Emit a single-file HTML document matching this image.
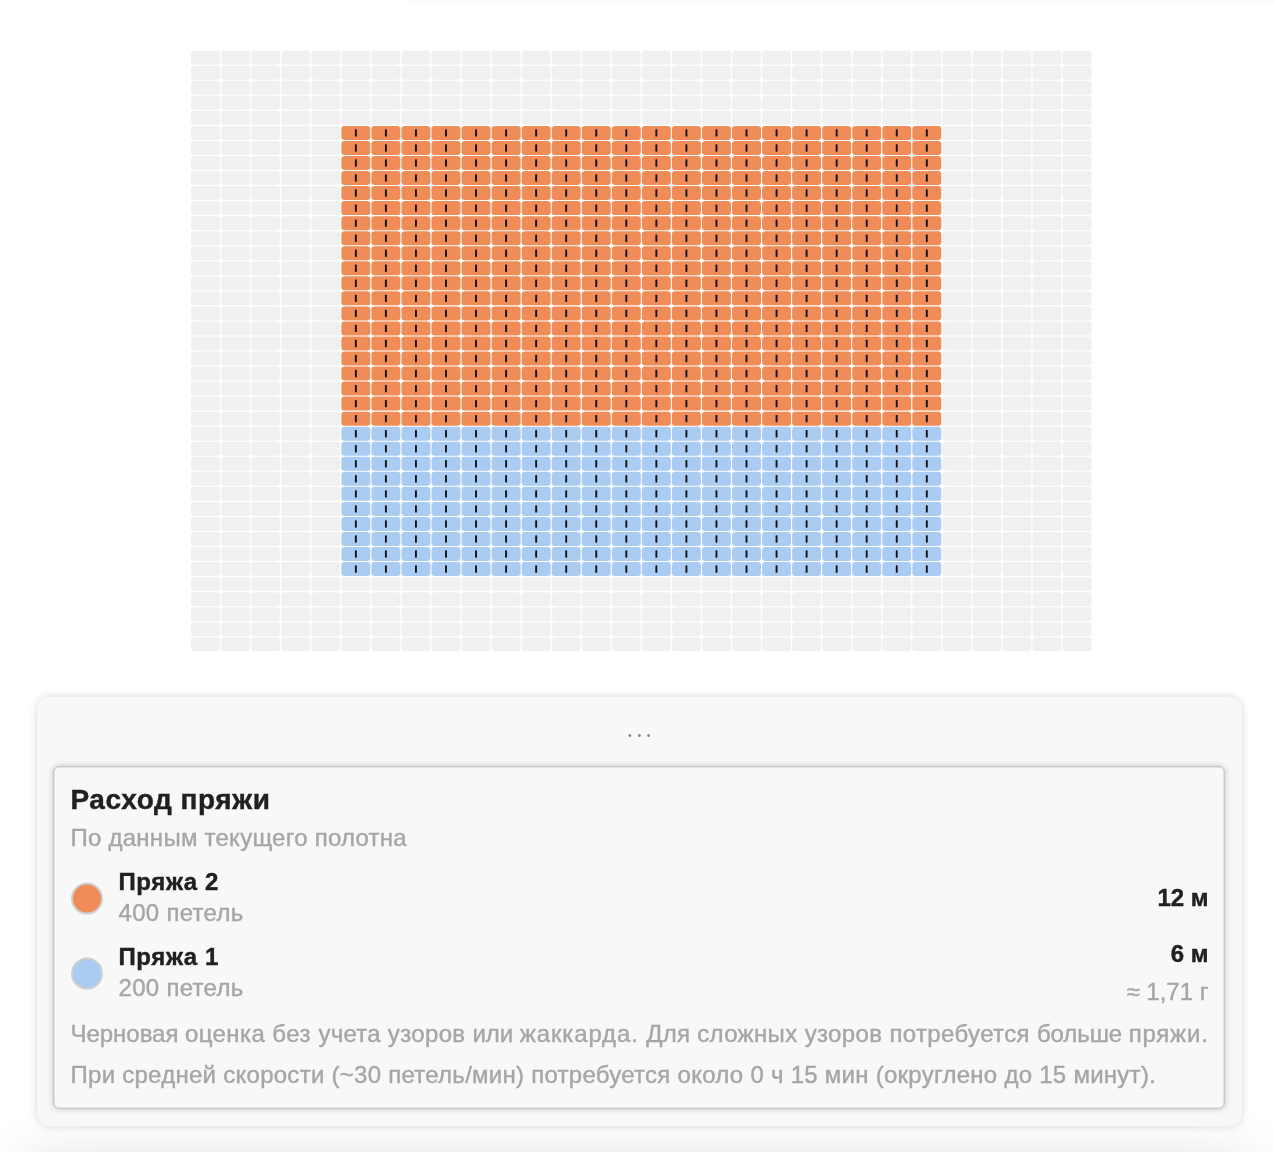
<!DOCTYPE html>
<html lang="ru"><head><meta charset="utf-8">
<title>Расход пряжи</title>
<style>
html,body{margin:0;padding:0;background:#fff;}
body{width:1274px;height:1152px;overflow:hidden;position:relative;font-family:"Liberation Sans",sans-serif;color:#202020;}
#grid{position:absolute;left:0;top:0;}
.topsh{position:absolute;left:403px;top:-11px;width:900px;height:10px;border-radius:0 0 0 8px;box-shadow:0 0 5px rgba(0,0,0,.065);}
.botsh{position:absolute;left:24px;top:1166px;width:1228px;height:100px;border-radius:14px;box-shadow:0 0 60px rgba(0,0,0,.17);}
.panel{position:absolute;left:36.5px;top:697.3px;width:1205.5px;height:429.2px;box-sizing:border-box;background:#f8f8f8;border-radius:13px;box-shadow:0 0 8px rgba(0,0,0,.16);}
.dots{position:absolute;left:0;right:0;top:33px;text-align:center;color:#848484;font-size:10.5px;line-height:10px;letter-spacing:5.68px;text-indent:5.68px;}
.card{position:absolute;left:16.5px;top:69px;width:1172px;height:343px;box-sizing:border-box;background:#f8f8f8;border:1px solid #c8c8c8;border-radius:6px;box-shadow:0 0 6px rgba(0,0,0,.2),inset 0 0 0 .5px #cfcfcf;}
.t{position:absolute;white-space:nowrap;line-height:1;-webkit-text-stroke:.4px currentColor;}
.h{font-weight:bold;font-size:28px;left:16.5px;letter-spacing:.55px;}
.sub{color:#a6a6a6;font-size:24px;left:16.5px;letter-spacing:.25px;}
.name{font-weight:bold;font-size:24px;left:64.5px;letter-spacing:.6px;}
.cnt{color:#a6a6a6;font-size:24px;left:64.5px;letter-spacing:.3px;}
.val{font-weight:bold;font-size:24px;right:15.5px;}
.g{color:#a6a6a6;font-size:24px;right:15.5px;}
.sw{position:absolute;transform:translateY(.6px);left:16.5px;width:28px;height:28px;border-radius:50%;border:2px solid #cfcfcf;}
.note{color:#a6a6a6;font-size:24px;left:16.5px;}
</style></head><body>
<svg id="grid" width="1274" height="700" viewBox="0 0 1274 700">
 <defs>
  <g id="g5"><rect x="0.00" width="29.0" height="14.0" rx="3.2" fill="#f0f0f0"/><rect x="30.05" width="29.0" height="14.0" rx="3.2" fill="#f0f0f0"/><rect x="60.10" width="29.0" height="14.0" rx="3.2" fill="#f0f0f0"/><rect x="90.15" width="29.0" height="14.0" rx="3.2" fill="#f0f0f0"/><rect x="120.20" width="29.0" height="14.0" rx="3.2" fill="#f0f0f0"/></g>
  <g id="gf"><use href="#g5" x="0.00"/><use href="#g5" x="150.25"/><use href="#g5" x="300.50"/><use href="#g5" x="450.75"/><use href="#g5" x="601.00"/><use href="#g5" x="751.25"/></g>
  <g id="gs"><use href="#g5"/><use href="#g5" x="751.25"/></g>
  <g id="ro"><rect x="0.00" width="29.0" height="14.0" rx="3.2" fill="#f08c58"/><rect x="30.05" width="29.0" height="14.0" rx="3.2" fill="#f08c58"/><rect x="60.10" width="29.0" height="14.0" rx="3.2" fill="#f08c58"/><rect x="90.15" width="29.0" height="14.0" rx="3.2" fill="#f08c58"/><rect x="120.20" width="29.0" height="14.0" rx="3.2" fill="#f08c58"/><rect x="150.25" width="29.0" height="14.0" rx="3.2" fill="#f08c58"/><rect x="180.30" width="29.0" height="14.0" rx="3.2" fill="#f08c58"/><rect x="210.35" width="29.0" height="14.0" rx="3.2" fill="#f08c58"/><rect x="240.40" width="29.0" height="14.0" rx="3.2" fill="#f08c58"/><rect x="270.45" width="29.0" height="14.0" rx="3.2" fill="#f08c58"/><rect x="300.50" width="29.0" height="14.0" rx="3.2" fill="#f08c58"/><rect x="330.55" width="29.0" height="14.0" rx="3.2" fill="#f08c58"/><rect x="360.60" width="29.0" height="14.0" rx="3.2" fill="#f08c58"/><rect x="390.65" width="29.0" height="14.0" rx="3.2" fill="#f08c58"/><rect x="420.70" width="29.0" height="14.0" rx="3.2" fill="#f08c58"/><rect x="450.75" width="29.0" height="14.0" rx="3.2" fill="#f08c58"/><rect x="480.80" width="29.0" height="14.0" rx="3.2" fill="#f08c58"/><rect x="510.85" width="29.0" height="14.0" rx="3.2" fill="#f08c58"/><rect x="540.90" width="29.0" height="14.0" rx="3.2" fill="#f08c58"/><rect x="570.95" width="29.0" height="14.0" rx="3.2" fill="#f08c58"/><rect x="13.55" y="3.30" width="1.9" height="7.4" rx=".6" fill="#15110e"/><rect x="43.60" y="3.30" width="1.9" height="7.4" rx=".6" fill="#15110e"/><rect x="73.65" y="3.30" width="1.9" height="7.4" rx=".6" fill="#15110e"/><rect x="103.70" y="3.30" width="1.9" height="7.4" rx=".6" fill="#15110e"/><rect x="133.75" y="3.30" width="1.9" height="7.4" rx=".6" fill="#15110e"/><rect x="163.80" y="3.30" width="1.9" height="7.4" rx=".6" fill="#15110e"/><rect x="193.85" y="3.30" width="1.9" height="7.4" rx=".6" fill="#15110e"/><rect x="223.90" y="3.30" width="1.9" height="7.4" rx=".6" fill="#15110e"/><rect x="253.95" y="3.30" width="1.9" height="7.4" rx=".6" fill="#15110e"/><rect x="284.00" y="3.30" width="1.9" height="7.4" rx=".6" fill="#15110e"/><rect x="314.05" y="3.30" width="1.9" height="7.4" rx=".6" fill="#15110e"/><rect x="344.10" y="3.30" width="1.9" height="7.4" rx=".6" fill="#15110e"/><rect x="374.15" y="3.30" width="1.9" height="7.4" rx=".6" fill="#15110e"/><rect x="404.20" y="3.30" width="1.9" height="7.4" rx=".6" fill="#15110e"/><rect x="434.25" y="3.30" width="1.9" height="7.4" rx=".6" fill="#15110e"/><rect x="464.30" y="3.30" width="1.9" height="7.4" rx=".6" fill="#15110e"/><rect x="494.35" y="3.30" width="1.9" height="7.4" rx=".6" fill="#15110e"/><rect x="524.40" y="3.30" width="1.9" height="7.4" rx=".6" fill="#15110e"/><rect x="554.45" y="3.30" width="1.9" height="7.4" rx=".6" fill="#15110e"/><rect x="584.50" y="3.30" width="1.9" height="7.4" rx=".6" fill="#15110e"/></g>
  <g id="rb"><rect x="0.00" width="29.0" height="14.0" rx="3.2" fill="#aaccf3"/><rect x="30.05" width="29.0" height="14.0" rx="3.2" fill="#aaccf3"/><rect x="60.10" width="29.0" height="14.0" rx="3.2" fill="#aaccf3"/><rect x="90.15" width="29.0" height="14.0" rx="3.2" fill="#aaccf3"/><rect x="120.20" width="29.0" height="14.0" rx="3.2" fill="#aaccf3"/><rect x="150.25" width="29.0" height="14.0" rx="3.2" fill="#aaccf3"/><rect x="180.30" width="29.0" height="14.0" rx="3.2" fill="#aaccf3"/><rect x="210.35" width="29.0" height="14.0" rx="3.2" fill="#aaccf3"/><rect x="240.40" width="29.0" height="14.0" rx="3.2" fill="#aaccf3"/><rect x="270.45" width="29.0" height="14.0" rx="3.2" fill="#aaccf3"/><rect x="300.50" width="29.0" height="14.0" rx="3.2" fill="#aaccf3"/><rect x="330.55" width="29.0" height="14.0" rx="3.2" fill="#aaccf3"/><rect x="360.60" width="29.0" height="14.0" rx="3.2" fill="#aaccf3"/><rect x="390.65" width="29.0" height="14.0" rx="3.2" fill="#aaccf3"/><rect x="420.70" width="29.0" height="14.0" rx="3.2" fill="#aaccf3"/><rect x="450.75" width="29.0" height="14.0" rx="3.2" fill="#aaccf3"/><rect x="480.80" width="29.0" height="14.0" rx="3.2" fill="#aaccf3"/><rect x="510.85" width="29.0" height="14.0" rx="3.2" fill="#aaccf3"/><rect x="540.90" width="29.0" height="14.0" rx="3.2" fill="#aaccf3"/><rect x="570.95" width="29.0" height="14.0" rx="3.2" fill="#aaccf3"/><rect x="13.55" y="3.30" width="1.9" height="7.4" rx=".6" fill="#0e1218"/><rect x="43.60" y="3.30" width="1.9" height="7.4" rx=".6" fill="#0e1218"/><rect x="73.65" y="3.30" width="1.9" height="7.4" rx=".6" fill="#0e1218"/><rect x="103.70" y="3.30" width="1.9" height="7.4" rx=".6" fill="#0e1218"/><rect x="133.75" y="3.30" width="1.9" height="7.4" rx=".6" fill="#0e1218"/><rect x="163.80" y="3.30" width="1.9" height="7.4" rx=".6" fill="#0e1218"/><rect x="193.85" y="3.30" width="1.9" height="7.4" rx=".6" fill="#0e1218"/><rect x="223.90" y="3.30" width="1.9" height="7.4" rx=".6" fill="#0e1218"/><rect x="253.95" y="3.30" width="1.9" height="7.4" rx=".6" fill="#0e1218"/><rect x="284.00" y="3.30" width="1.9" height="7.4" rx=".6" fill="#0e1218"/><rect x="314.05" y="3.30" width="1.9" height="7.4" rx=".6" fill="#0e1218"/><rect x="344.10" y="3.30" width="1.9" height="7.4" rx=".6" fill="#0e1218"/><rect x="374.15" y="3.30" width="1.9" height="7.4" rx=".6" fill="#0e1218"/><rect x="404.20" y="3.30" width="1.9" height="7.4" rx=".6" fill="#0e1218"/><rect x="434.25" y="3.30" width="1.9" height="7.4" rx=".6" fill="#0e1218"/><rect x="464.30" y="3.30" width="1.9" height="7.4" rx=".6" fill="#0e1218"/><rect x="494.35" y="3.30" width="1.9" height="7.4" rx=".6" fill="#0e1218"/><rect x="524.40" y="3.30" width="1.9" height="7.4" rx=".6" fill="#0e1218"/><rect x="554.45" y="3.30" width="1.9" height="7.4" rx=".6" fill="#0e1218"/><rect x="584.50" y="3.30" width="1.9" height="7.4" rx=".6" fill="#0e1218"/></g>
 </defs>
 <g transform="translate(191.1 50.7)">
  <use href="#gf" y="0.00"/>
  <use href="#gf" y="15.04"/>
  <use href="#gf" y="30.08"/>
  <use href="#gf" y="45.12"/>
  <use href="#gf" y="60.16"/>
  <use href="#gs" y="75.20"/><use href="#ro" x="150.25" y="75.20"/>
  <use href="#gs" y="90.24"/><use href="#ro" x="150.25" y="90.24"/>
  <use href="#gs" y="105.28"/><use href="#ro" x="150.25" y="105.28"/>
  <use href="#gs" y="120.32"/><use href="#ro" x="150.25" y="120.32"/>
  <use href="#gs" y="135.36"/><use href="#ro" x="150.25" y="135.36"/>
  <use href="#gs" y="150.40"/><use href="#ro" x="150.25" y="150.40"/>
  <use href="#gs" y="165.44"/><use href="#ro" x="150.25" y="165.44"/>
  <use href="#gs" y="180.48"/><use href="#ro" x="150.25" y="180.48"/>
  <use href="#gs" y="195.52"/><use href="#ro" x="150.25" y="195.52"/>
  <use href="#gs" y="210.56"/><use href="#ro" x="150.25" y="210.56"/>
  <use href="#gs" y="225.60"/><use href="#ro" x="150.25" y="225.60"/>
  <use href="#gs" y="240.64"/><use href="#ro" x="150.25" y="240.64"/>
  <use href="#gs" y="255.68"/><use href="#ro" x="150.25" y="255.68"/>
  <use href="#gs" y="270.72"/><use href="#ro" x="150.25" y="270.72"/>
  <use href="#gs" y="285.76"/><use href="#ro" x="150.25" y="285.76"/>
  <use href="#gs" y="300.80"/><use href="#ro" x="150.25" y="300.80"/>
  <use href="#gs" y="315.84"/><use href="#ro" x="150.25" y="315.84"/>
  <use href="#gs" y="330.88"/><use href="#ro" x="150.25" y="330.88"/>
  <use href="#gs" y="345.92"/><use href="#ro" x="150.25" y="345.92"/>
  <use href="#gs" y="360.96"/><use href="#ro" x="150.25" y="360.96"/>
  <use href="#gs" y="376.00"/><use href="#rb" x="150.25" y="376.00"/>
  <use href="#gs" y="391.04"/><use href="#rb" x="150.25" y="391.04"/>
  <use href="#gs" y="406.08"/><use href="#rb" x="150.25" y="406.08"/>
  <use href="#gs" y="421.12"/><use href="#rb" x="150.25" y="421.12"/>
  <use href="#gs" y="436.16"/><use href="#rb" x="150.25" y="436.16"/>
  <use href="#gs" y="451.20"/><use href="#rb" x="150.25" y="451.20"/>
  <use href="#gs" y="466.24"/><use href="#rb" x="150.25" y="466.24"/>
  <use href="#gs" y="481.28"/><use href="#rb" x="150.25" y="481.28"/>
  <use href="#gs" y="496.32"/><use href="#rb" x="150.25" y="496.32"/>
  <use href="#gs" y="511.36"/><use href="#rb" x="150.25" y="511.36"/>
  <use href="#gf" y="526.40"/>
  <use href="#gf" y="541.44"/>
  <use href="#gf" y="556.48"/>
  <use href="#gf" y="571.52"/>
  <use href="#gf" y="586.56"/>
 </g>
</svg>
<div class="topsh"></div>
<div class="botsh"></div>
<div class="panel">
 <div class="dots">•••</div>
 <div class="card">
  <div class="t h" id="h" style="top:18.7px">Расход пряжи</div>
  <div class="t sub" id="sub" style="top:58.6px">По данным текущего полотна</div>
  <div class="sw" style="top:115px;background:#f08c58"></div>
  <div class="t name" id="n2" style="top:102.6px">Пряжа 2</div>
  <div class="t cnt" id="c2" style="top:134px">400 петель</div>
  <div class="t val" id="v2" style="top:119px">12 м</div>
  <div class="sw" style="top:190px;background:#aaccf3"></div>
  <div class="t name" id="n1" style="top:177.6px">Пряжа 1</div>
  <div class="t cnt" id="c1" style="top:209px">200 петель</div>
  <div class="t val" id="v1" style="top:175px">6 м</div>
  <div class="t g" id="g1" style="top:213px">≈ 1,71 г</div>
  <div class="t note" id="no1" style="top:254.8px"><span style="letter-spacing:-0.033px">Черновая </span><span style="letter-spacing:0.39px">оценка </span><span style="letter-spacing:0.558px">без </span><span style="letter-spacing:0.267px">учета </span><span style="letter-spacing:0.357px">узоров </span><span style="letter-spacing:-0.071px">или </span><span style="letter-spacing:0.883px">жаккарда. </span><span style="letter-spacing:0.22px">Для </span><span style="letter-spacing:0.365px">сложных </span><span style="letter-spacing:0.371px">узоров </span><span style="letter-spacing:0.365px">потребуется </span><span style="letter-spacing:-0.092px">больше </span><span style="letter-spacing:0.8px">пряжи.</span></div>
  <div class="t note" id="no2" style="top:296px;letter-spacing:.267px">При средней скорости (~30 петель/мин) потребуется около 0 ч 15 мин (округлено до 15 минут).</div>
 </div>
</div>
</body></html>
